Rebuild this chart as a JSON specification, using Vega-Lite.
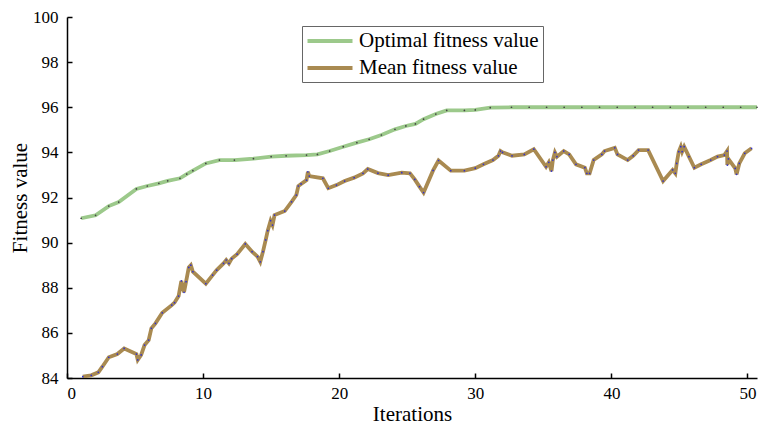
{
  "$schema": "https://vega.github.io/schema/vega-lite/v6.json",
  "width": 690,
  "height": 361,
  "autosize": "none",
  "padding": {"left": 67, "top": 17, "right": 1, "bottom": 48},
  "background": "white",
  "config": {
    "view": {"stroke": null},
    "font": "Liberation Serif",
    "axis": {"grid": false, "domainColor": "black", "tickColor": "black", "labelColor": "black", "titleColor": "black", "labelFont": "Liberation Serif", "titleFont": "Liberation Serif", "labelFontSize": 17, "titleFontSize": 21, "titleFontWeight": "normal", "domainWidth": 1.5, "tickWidth": 1.5},
    "legend": {"labelFont": "Liberation Serif"}
  },
  "datasets": {
    "opt": [
      {"series": "Optimal fitness value", "x": 1.04, "y": 91.08},
      {"series": "Optimal fitness value", "x": 2.1, "y": 91.21},
      {"series": "Optimal fitness value", "x": 3.07, "y": 91.62},
      {"series": "Optimal fitness value", "x": 3.8, "y": 91.8},
      {"series": "Optimal fitness value", "x": 5.1, "y": 92.38},
      {"series": "Optimal fitness value", "x": 5.9, "y": 92.51},
      {"series": "Optimal fitness value", "x": 6.75, "y": 92.63},
      {"series": "Optimal fitness value", "x": 7.4, "y": 92.74},
      {"series": "Optimal fitness value", "x": 8.3, "y": 92.85},
      {"series": "Optimal fitness value", "x": 8.8, "y": 93.04},
      {"series": "Optimal fitness value", "x": 9.25, "y": 93.19},
      {"series": "Optimal fitness value", "x": 10.2, "y": 93.51},
      {"series": "Optimal fitness value", "x": 11.2, "y": 93.66},
      {"series": "Optimal fitness value", "x": 12.3, "y": 93.66},
      {"series": "Optimal fitness value", "x": 13.7, "y": 93.72},
      {"series": "Optimal fitness value", "x": 15.0, "y": 93.81},
      {"series": "Optimal fitness value", "x": 16.1, "y": 93.85},
      {"series": "Optimal fitness value", "x": 17.6, "y": 93.88},
      {"series": "Optimal fitness value", "x": 18.4, "y": 93.91},
      {"series": "Optimal fitness value", "x": 19.3, "y": 94.06},
      {"series": "Optimal fitness value", "x": 20.3, "y": 94.25},
      {"series": "Optimal fitness value", "x": 21.3, "y": 94.43},
      {"series": "Optimal fitness value", "x": 22.2, "y": 94.58},
      {"series": "Optimal fitness value", "x": 23.1, "y": 94.77},
      {"series": "Optimal fitness value", "x": 24.1, "y": 95.02},
      {"series": "Optimal fitness value", "x": 24.9, "y": 95.17},
      {"series": "Optimal fitness value", "x": 25.6, "y": 95.26},
      {"series": "Optimal fitness value", "x": 26.2, "y": 95.47},
      {"series": "Optimal fitness value", "x": 27.1, "y": 95.7},
      {"series": "Optimal fitness value", "x": 27.9, "y": 95.86},
      {"series": "Optimal fitness value", "x": 29.2, "y": 95.86},
      {"series": "Optimal fitness value", "x": 30.0, "y": 95.88},
      {"series": "Optimal fitness value", "x": 31.1, "y": 95.98},
      {"series": "Optimal fitness value", "x": 32.66, "y": 96},
      {"series": "Optimal fitness value", "x": 33.96, "y": 96},
      {"series": "Optimal fitness value", "x": 35.24, "y": 96},
      {"series": "Optimal fitness value", "x": 36.53, "y": 96},
      {"series": "Optimal fitness value", "x": 37.83, "y": 96},
      {"series": "Optimal fitness value", "x": 39.13, "y": 96},
      {"series": "Optimal fitness value", "x": 40.43, "y": 96},
      {"series": "Optimal fitness value", "x": 41.74, "y": 96},
      {"series": "Optimal fitness value", "x": 43.03, "y": 96},
      {"series": "Optimal fitness value", "x": 44.33, "y": 96},
      {"series": "Optimal fitness value", "x": 45.63, "y": 96},
      {"series": "Optimal fitness value", "x": 46.93, "y": 96},
      {"series": "Optimal fitness value", "x": 48.22, "y": 96},
      {"series": "Optimal fitness value", "x": 49.5, "y": 96},
      {"series": "Optimal fitness value", "x": 50.7, "y": 96}
    ],
    "mean": [
      {"series": "Mean fitness value", "x": 1.16, "y": 84.06},
      {"series": "Mean fitness value", "x": 1.78, "y": 84.12},
      {"series": "Mean fitness value", "x": 2.3, "y": 84.25},
      {"series": "Mean fitness value", "x": 2.6, "y": 84.5},
      {"series": "Mean fitness value", "x": 3.07, "y": 84.92},
      {"series": "Mean fitness value", "x": 3.7, "y": 85.06},
      {"series": "Mean fitness value", "x": 4.2, "y": 85.31},
      {"series": "Mean fitness value", "x": 5.1, "y": 85.06},
      {"series": "Mean fitness value", "x": 5.2, "y": 84.8},
      {"series": "Mean fitness value", "x": 5.45, "y": 85.02},
      {"series": "Mean fitness value", "x": 5.7, "y": 85.46},
      {"series": "Mean fitness value", "x": 6.0, "y": 85.68},
      {"series": "Mean fitness value", "x": 6.2, "y": 86.2},
      {"series": "Mean fitness value", "x": 6.5, "y": 86.42},
      {"series": "Mean fitness value", "x": 7.0, "y": 86.89},
      {"series": "Mean fitness value", "x": 7.7, "y": 87.23},
      {"series": "Mean fitness value", "x": 7.9, "y": 87.34},
      {"series": "Mean fitness value", "x": 8.2, "y": 87.63},
      {"series": "Mean fitness value", "x": 8.4, "y": 88.3},
      {"series": "Mean fitness value", "x": 8.6, "y": 87.8},
      {"series": "Mean fitness value", "x": 8.75, "y": 88.27},
      {"series": "Mean fitness value", "x": 8.95, "y": 88.9},
      {"series": "Mean fitness value", "x": 9.1, "y": 89.0},
      {"series": "Mean fitness value", "x": 9.25, "y": 88.71},
      {"series": "Mean fitness value", "x": 10.2, "y": 88.18},
      {"series": "Mean fitness value", "x": 10.7, "y": 88.56},
      {"series": "Mean fitness value", "x": 11.0, "y": 88.78},
      {"series": "Mean fitness value", "x": 11.5, "y": 89.08},
      {"series": "Mean fitness value", "x": 11.7, "y": 89.23},
      {"series": "Mean fitness value", "x": 11.9, "y": 89.08},
      {"series": "Mean fitness value", "x": 12.1, "y": 89.29},
      {"series": "Mean fitness value", "x": 12.5, "y": 89.49},
      {"series": "Mean fitness value", "x": 13.1, "y": 89.94},
      {"series": "Mean fitness value", "x": 13.6, "y": 89.6},
      {"series": "Mean fitness value", "x": 14.0, "y": 89.38},
      {"series": "Mean fitness value", "x": 14.2, "y": 89.15},
      {"series": "Mean fitness value", "x": 14.4, "y": 89.6},
      {"series": "Mean fitness value", "x": 14.6, "y": 90.12},
      {"series": "Mean fitness value", "x": 14.75, "y": 90.53},
      {"series": "Mean fitness value", "x": 14.96, "y": 90.97},
      {"series": "Mean fitness value", "x": 15.1, "y": 90.78},
      {"series": "Mean fitness value", "x": 15.25, "y": 91.22},
      {"series": "Mean fitness value", "x": 16.0, "y": 91.4},
      {"series": "Mean fitness value", "x": 16.5, "y": 91.81},
      {"series": "Mean fitness value", "x": 16.85, "y": 92.11},
      {"series": "Mean fitness value", "x": 17.0, "y": 92.51},
      {"series": "Mean fitness value", "x": 17.2, "y": 92.6},
      {"series": "Mean fitness value", "x": 17.6, "y": 92.77},
      {"series": "Mean fitness value", "x": 17.7, "y": 93.14},
      {"series": "Mean fitness value", "x": 17.8, "y": 92.95},
      {"series": "Mean fitness value", "x": 18.8, "y": 92.85},
      {"series": "Mean fitness value", "x": 19.2, "y": 92.41},
      {"series": "Mean fitness value", "x": 19.8, "y": 92.55},
      {"series": "Mean fitness value", "x": 20.4, "y": 92.73},
      {"series": "Mean fitness value", "x": 21.1, "y": 92.88},
      {"series": "Mean fitness value", "x": 21.75, "y": 93.07},
      {"series": "Mean fitness value", "x": 22.1, "y": 93.26},
      {"series": "Mean fitness value", "x": 22.85, "y": 93.08},
      {"series": "Mean fitness value", "x": 23.6, "y": 92.99},
      {"series": "Mean fitness value", "x": 24.6, "y": 93.1},
      {"series": "Mean fitness value", "x": 25.2, "y": 93.07},
      {"series": "Mean fitness value", "x": 25.55, "y": 92.8},
      {"series": "Mean fitness value", "x": 25.9, "y": 92.48},
      {"series": "Mean fitness value", "x": 26.2, "y": 92.22},
      {"series": "Mean fitness value", "x": 26.9, "y": 93.2},
      {"series": "Mean fitness value", "x": 27.3, "y": 93.64},
      {"series": "Mean fitness value", "x": 28.2, "y": 93.19},
      {"series": "Mean fitness value", "x": 29.2, "y": 93.19},
      {"series": "Mean fitness value", "x": 30.0, "y": 93.3},
      {"series": "Mean fitness value", "x": 30.6, "y": 93.47},
      {"series": "Mean fitness value", "x": 31.3, "y": 93.66},
      {"series": "Mean fitness value", "x": 31.7, "y": 93.85},
      {"series": "Mean fitness value", "x": 31.85, "y": 94.06},
      {"series": "Mean fitness value", "x": 32.0, "y": 94.0},
      {"series": "Mean fitness value", "x": 32.7, "y": 93.85},
      {"series": "Mean fitness value", "x": 33.6, "y": 93.91},
      {"series": "Mean fitness value", "x": 34.3, "y": 94.14},
      {"series": "Mean fitness value", "x": 35.2, "y": 93.36},
      {"series": "Mean fitness value", "x": 35.4, "y": 93.56},
      {"series": "Mean fitness value", "x": 35.6, "y": 93.17},
      {"series": "Mean fitness value", "x": 35.7, "y": 93.66},
      {"series": "Mean fitness value", "x": 35.85, "y": 94.0},
      {"series": "Mean fitness value", "x": 36.0, "y": 93.81},
      {"series": "Mean fitness value", "x": 36.5, "y": 94.06},
      {"series": "Mean fitness value", "x": 36.9, "y": 93.91},
      {"series": "Mean fitness value", "x": 37.4, "y": 93.47},
      {"series": "Mean fitness value", "x": 38.05, "y": 93.32},
      {"series": "Mean fitness value", "x": 38.2, "y": 93.07},
      {"series": "Mean fitness value", "x": 38.4, "y": 93.07},
      {"series": "Mean fitness value", "x": 38.7, "y": 93.66},
      {"series": "Mean fitness value", "x": 39.3, "y": 93.91},
      {"series": "Mean fitness value", "x": 39.5, "y": 94.06},
      {"series": "Mean fitness value", "x": 40.25, "y": 94.2},
      {"series": "Mean fitness value", "x": 40.45, "y": 93.91},
      {"series": "Mean fitness value", "x": 41.2, "y": 93.66},
      {"series": "Mean fitness value", "x": 41.6, "y": 93.85},
      {"series": "Mean fitness value", "x": 42.0, "y": 94.1},
      {"series": "Mean fitness value", "x": 42.7, "y": 94.1},
      {"series": "Mean fitness value", "x": 43.8, "y": 92.73},
      {"series": "Mean fitness value", "x": 44.5, "y": 93.22},
      {"series": "Mean fitness value", "x": 44.7, "y": 93.07},
      {"series": "Mean fitness value", "x": 44.8, "y": 93.51},
      {"series": "Mean fitness value", "x": 44.95, "y": 94.03},
      {"series": "Mean fitness value", "x": 45.1, "y": 94.25},
      {"series": "Mean fitness value", "x": 45.2, "y": 94.03},
      {"series": "Mean fitness value", "x": 45.35, "y": 94.25},
      {"series": "Mean fitness value", "x": 45.7, "y": 93.81},
      {"series": "Mean fitness value", "x": 46.1, "y": 93.32},
      {"series": "Mean fitness value", "x": 46.6, "y": 93.47},
      {"series": "Mean fitness value", "x": 47.3, "y": 93.66},
      {"series": "Mean fitness value", "x": 47.8, "y": 93.81},
      {"series": "Mean fitness value", "x": 48.3, "y": 93.88},
      {"series": "Mean fitness value", "x": 48.5, "y": 94.06},
      {"series": "Mean fitness value", "x": 48.52, "y": 93.44},
      {"series": "Mean fitness value", "x": 48.6, "y": 93.71},
      {"series": "Mean fitness value", "x": 49.1, "y": 93.29},
      {"series": "Mean fitness value", "x": 49.2, "y": 93.03},
      {"series": "Mean fitness value", "x": 49.4, "y": 93.51},
      {"series": "Mean fitness value", "x": 49.8, "y": 93.96},
      {"series": "Mean fitness value", "x": 50.3, "y": 94.18}
    ]
  },
  "layer": [
    {
      "data": {"name": "opt"},
      "layer": [
        {
          "mark": {"type": "line", "strokeWidth": 3.8, "clip": true},
          "encoding": {
            "x": {"field": "x", "type": "quantitative", "scale": {"domain": [0, 50.7], "nice": false, "zero": false}, "axis": {"values": [0, 10, 20, 30, 40, 50], "title": "Iterations", "tickSize": -5, "labelPadding": 12, "titlePadding": 2, "format": "d", "labelFont": "Liberation Serif", "titleFont": "Liberation Serif"}},
            "y": {"field": "y", "type": "quantitative", "scale": {"domain": [84, 100], "nice": false, "zero": false}, "axis": {"values": [84, 86, 88, 90, 92, 94, 96, 98, 100], "title": "Fitness value", "tickSize": -5, "labelPadding": 14, "titlePadding": 2, "format": "d", "labelFont": "Liberation Serif", "titleFont": "Liberation Serif"}},
            "color": {"field": "series", "type": "nominal", "scale": {"domain": ["Optimal fitness value", "Mean fitness value"], "range": ["#9cc98b", "#a98a51"]},
              "legend": {"title": null, "orient": "none", "legendX": 235, "legendY": 9, "symbolType": "M-2.5,0H2.5", "symbolSize": 324, "symbolStrokeWidth": 4, "labelFont": "Liberation Serif", "labelFontSize": 21, "labelLimit": 400, "labelColor": "black", "strokeColor": "#666666", "fillColor": "white", "padding": 4, "rowPadding": 6, "labelOffset": 18, "symbolOffset": 13}}
          }
        },
        {
          "mark": {"type": "point", "filled": true, "size": 3, "color": "#444444", "opacity": 1},
          "encoding": {"x": {"field": "x", "type": "quantitative"}, "y": {"field": "y", "type": "quantitative"}}
        }
      ]
    },
    {
      "data": {"name": "mean"},
      "layer": [
        {
          "mark": {"type": "line", "strokeWidth": 3.8, "clip": true},
          "encoding": {
            "x": {"field": "x", "type": "quantitative"},
            "y": {"field": "y", "type": "quantitative"},
            "color": {"field": "series", "type": "nominal"}
          }
        },
        {
          "mark": {"type": "point", "filled": true, "size": 3, "color": "#3333cc", "opacity": 1},
          "encoding": {"x": {"field": "x", "type": "quantitative"}, "y": {"field": "y", "type": "quantitative"}}
        }
      ]
    }
  ]
}
